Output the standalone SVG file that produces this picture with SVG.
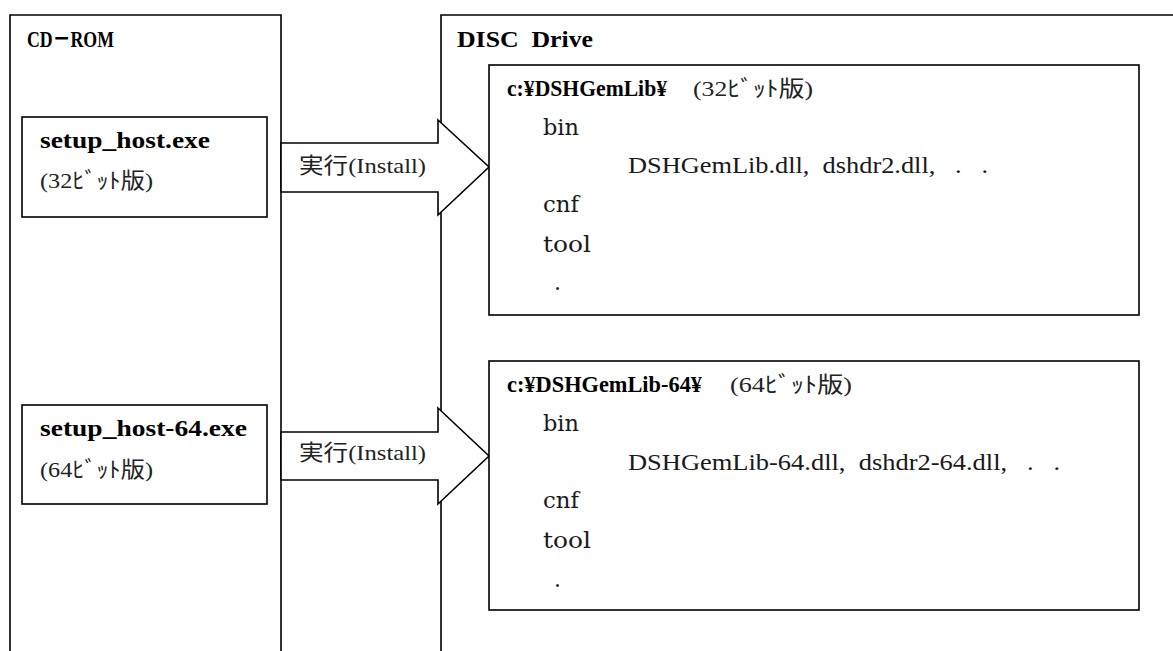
<svg xmlns="http://www.w3.org/2000/svg" width="1173" height="651" viewBox="0 0 1173 651">
<style>
.bx{fill:#fff;stroke:#000;stroke-width:1.6}
.ln{fill:none;stroke:#000;stroke-width:1.6}
.ar{fill:#fff;stroke:#000;stroke-width:1.6;stroke-linejoin:miter}
text{fill:#000}
.m{font-family:'DejaVu Serif','Noto Sans CJK JP',serif;font-size:22px;fill:#1a1a1a}
.b{font-family:'Liberation Serif','Noto Sans CJK JP',serif;font-size:24px;font-weight:bold}
.p{font-family:'Liberation Serif','Noto Sans CJK JP',serif;font-size:23px;fill:#1a1a1a}
.j{font-family:'Liberation Serif','Noto Sans CJK JP',serif;font-size:22px;fill:#222}
.lb{font-family:'Liberation Serif','Noto Sans CJK JP',serif;font-size:22px;fill:#222}
</style>
<rect width="1173" height="651" fill="#fff"/>
<g id="cdrom">
<path class="ln" d="M10,660 V15 H281 V660"/>
<text class="b" x="27" y="47" textLength="87" lengthAdjust="spacingAndGlyphs">CD－ROM</text>
</g>
<g id="disc">
<path class="ln" d="M441,660 V15 H1180"/>
<text class="b" x="457" y="47" textLength="136" lengthAdjust="spacingAndGlyphs" xml:space="preserve">DISC  Drive</text>
</g>
<g id="setup32">
<rect class="bx" x="22" y="117" width="245" height="100"/>
<text class="b" x="40" y="148" textLength="170" lengthAdjust="spacingAndGlyphs">setup_host.exe</text>
<text class="j" x="40" y="188" textLength="113" lengthAdjust="spacingAndGlyphs">(32ﾋﾞｯﾄ版)</text>
</g>
<g id="setup64">
<rect class="bx" x="22" y="405" width="245" height="99"/>
<text class="b" x="40" y="436" textLength="207" lengthAdjust="spacingAndGlyphs">setup_host-64.exe</text>
<text class="j" x="40" y="477" textLength="113" lengthAdjust="spacingAndGlyphs">(64ﾋﾞｯﾄ版)</text>
</g>
<g id="connectors">
<polygon class="ar" points="281,143 438,143 438,120 489,167 438,215 438,192 281,192"/>
<text class="lb" x="299" y="173" textLength="127" lengthAdjust="spacingAndGlyphs">実行(Install)</text>
<polygon class="ar" points="281,432 438,432 438,408 489,456 438,504 438,480 281,480"/>
<text class="lb" x="299" y="460" textLength="127" lengthAdjust="spacingAndGlyphs">実行(Install)</text>
</g>
<g id="dir32">
<rect class="bx" x="489" y="65" width="650" height="250"/>
<text class="b" x="507" y="96" textLength="160" lengthAdjust="spacingAndGlyphs">c:¥DSHGemLib¥</text>
<text class="j" x="693" y="96" textLength="120" lengthAdjust="spacingAndGlyphs">(32ﾋﾞｯﾄ版)</text>
<text class="m" x="543" y="135" textLength="36" lengthAdjust="spacingAndGlyphs">bin</text>
<text class="p" x="628" y="173" textLength="360" lengthAdjust="spacingAndGlyphs" xml:space="preserve">DSHGemLib.dll,  dshdr2.dll,   .   .</text>
<text class="m" x="543" y="212" textLength="36" lengthAdjust="spacingAndGlyphs">cnf</text>
<text class="m" x="543" y="252" textLength="48" lengthAdjust="spacingAndGlyphs">tool</text>
<text class="m" x="554" y="290">.</text>
</g>
<g id="dir64">
<rect class="bx" x="489" y="361" width="650" height="249"/>
<text class="b" x="507" y="392" textLength="195" lengthAdjust="spacingAndGlyphs">c:¥DSHGemLib-64¥</text>
<text class="j" x="730" y="392" textLength="122" lengthAdjust="spacingAndGlyphs">(64ﾋﾞｯﾄ版)</text>
<text class="m" x="543" y="431" textLength="36" lengthAdjust="spacingAndGlyphs">bin</text>
<text class="p" x="628" y="470" textLength="432" lengthAdjust="spacingAndGlyphs" xml:space="preserve">DSHGemLib-64.dll,  dshdr2-64.dll,   .   .</text>
<text class="m" x="543" y="508" textLength="36" lengthAdjust="spacingAndGlyphs">cnf</text>
<text class="m" x="543" y="548" textLength="48" lengthAdjust="spacingAndGlyphs">tool</text>
<text class="m" x="554" y="587">.</text>
</g>
</svg>
